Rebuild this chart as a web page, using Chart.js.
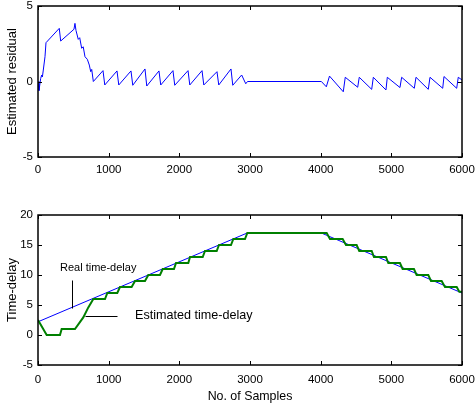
<!DOCTYPE html>
<html>
<head>
<meta charset="utf-8">
<script src="https://cdn.jsdelivr.net/npm/chart.js@4.4.0/dist/chart.umd.min.js"></script>
<style>
  html, body { margin: 0; padding: 0; background: #fff; }
  #wrap { position: relative; width: 476px; height: 409px; }
  canvas { position: absolute; left: 0; }
  #residualChart { top: 0; }
  #delayChart { top: 190px; }
</style>
</head>
<body>
<div id="wrap">
  <canvas id="residualChart" width="476" height="190"></canvas>
  <canvas id="delayChart" width="476" height="219"></canvas>
</div>
<script>
// Tick labels
const sampleTicks = [0, 1000, 2000, 3000, 4000, 5000, 6000];
const residualTicks = [-5, 0, 5];
const delayTicks = [-5, 0, 5, 10, 15, 20];

// Estimated residual (top plot)
const residualSamples = [0, 14, 38, 52, 62, 75, 99, 113, 301, 321, 509, 523, 538, 570, 590, 618, 640, 665, 698, 726, 746, 760, 783,
  920, 945, 1118, 1143, 1316, 1341, 1514, 1539, 1712, 1737, 1910, 1935, 2123, 2148, 2321, 2346, 2533, 2558, 2731, 2756,
  2882, 2940, 2965, 4010, 4080, 4125, 4320, 4348, 4524, 4546, 4722, 4745, 4924, 4943, 5122, 5146, 5325, 5349,
  5523, 5547, 5727, 5745, 5925, 5947, 6000];
const residualValues = [0, -0.6, 0.2, 0.43, 0.3, 0.76, 1.64, 2.57, 3.52, 2.68, 3.46, 3.85, 3.37, 2.79, 2.9, 2.2, 2.3, 1.64, 1.47, 1.09, 0.65, 0.8, 0,
  0.72, -0.23, 0.7, -0.23, 0.7, -0.25, 0.83, -0.3, 0.7, -0.23, 0.72, -0.25, 0.72, -0.23, 0.72, -0.23, 0.65, -0.23, 0.83, -0.25,
  0.43, -0.15, 0, 0, -0.35, 0.36, -0.68, 0.28, -0.38, 0.28, -0.52, 0.28, -0.56, 0.28, -0.4, 0.28, -0.45, 0.28,
  -0.52, 0.28, -0.45, 0.33, -0.45, 0.28, 0.1];

// Real time-delay (blue)
const realSamples = [0, 2960, 4010, 6000];
const realValues = [2.2, 17, 17, 7.0];

// Estimated time-delay (green staircase)
const estSamples = [0, 123, 311, 335, 523, 641, 712, 783, 948, 981, 1122, 1160, 1325, 1373, 1514, 1561,
  1726, 1765, 1924, 1953, 2127, 2151, 2331, 2363, 2529, 2561, 2731, 2764, 2929, 2962,
  4085, 4132, 4311, 4358, 4509, 4546, 4722, 4754, 4924, 4957, 5122, 5160, 5320, 5358,
  5523, 5561, 5712, 5759, 5925, 5962, 6000];
const estValues = [2.5, 0, 0, 1, 1, 2.94, 4.6, 6, 6, 7, 7, 8, 8, 9, 9, 10,
  10, 11, 11, 12, 12, 13, 13, 14, 14, 15, 15, 16, 16, 17,
  17, 16, 16, 15, 15, 14, 14, 13, 13, 12, 12, 11, 11, 10,
  10, 9, 9, 8, 8, 7.2, 7.2];

const FONT = "'Liberation Sans', Arial, sans-serif";
const tickFont = { family: FONT, size: 11.5 };

const pairs = (xs, ys) => xs.map((x, i) => ({ x: x, y: ys[i] }));

// box around the plot + inward tick marks on all four sides
const framePlugin = {
  id: 'frame',
  afterDraw(chart) {
    const { ctx, chartArea: a, scales: { x, y } } = chart;
    ctx.save();
    ctx.strokeStyle = '#000';
    ctx.lineWidth = 1;
    ctx.beginPath();
    x.ticks.forEach(t => {
      const px = Math.round(x.getPixelForValue(t.value)) + 0.5;
      ctx.moveTo(px, a.bottom); ctx.lineTo(px, a.bottom - 4);
      ctx.moveTo(px, a.top); ctx.lineTo(px, a.top + 4);
    });
    y.ticks.forEach(t => {
      const py = Math.round(y.getPixelForValue(t.value)) + 0.5;
      ctx.moveTo(a.left, py); ctx.lineTo(a.left + 4, py);
      ctx.moveTo(a.right, py); ctx.lineTo(a.right - 4, py);
    });
    ctx.stroke();
    ctx.lineWidth = 1.5;
    ctx.strokeRect(a.left, a.top, a.right - a.left, a.bottom - a.top);
    ctx.restore();
  }
};

// text labels with leader lines, placed in data units
const delayNotes = [
  { text: 'Real time-delay', size: 11, at: [311, 11.1], line: [[477, 9.2], [477, 4.45]] },
  { text: 'Estimated time-delay', size: 12.6, at: [1373, 3.3], line: [[665, 3.2], [1122, 3.2]] }
];

const notePlugin = {
  id: 'notes',
  afterDraw(chart) {
    const { ctx, scales: { x, y } } = chart;
    ctx.save();
    ctx.fillStyle = '#000';
    ctx.strokeStyle = '#000';
    ctx.lineWidth = 1;
    ctx.textBaseline = 'middle';
    delayNotes.forEach(n => {
      ctx.font = n.size + 'px ' + FONT;
      ctx.fillText(n.text, x.getPixelForValue(n.at[0]), y.getPixelForValue(n.at[1]));
      ctx.beginPath();
      const [p0, p1] = n.line;
      ctx.moveTo(Math.round(x.getPixelForValue(p0[0])) + 0.5, Math.round(y.getPixelForValue(p0[1])) + 0.5);
      ctx.lineTo(Math.round(x.getPixelForValue(p1[0])) + 0.5, Math.round(y.getPixelForValue(p1[1])) + 0.5);
      ctx.stroke();
    });
    ctx.restore();
  }
};

function xAxis(height, labelPad, title) {
  return {
    type: 'linear', min: 0, max: 6000,
    afterBuildTicks: s => { s.ticks = sampleTicks.map(v => ({ value: v })); },
    ticks: { color: '#000', font: tickFont, padding: labelPad, maxRotation: 0, autoSkip: false, callback: v => String(v) },
    grid: { display: false, drawTicks: false },
    border: { display: false },
    title: title ? { display: true, text: title, color: '#000', font: { family: FONT, size: 12.4 }, padding: { top: 0, bottom: 5 } } : { display: false },
    afterFit: s => { s.height = height; s.paddingLeft = 0; s.paddingRight = 0; }
  };
}

function yAxis(min, max, tickList, title) {
  return {
    type: 'linear', min: min, max: max,
    afterBuildTicks: s => { s.ticks = tickList.map(v => ({ value: v })); },
    ticks: { color: '#000', font: tickFont, padding: 5, autoSkip: false, callback: v => String(v) },
    grid: { display: false, drawTicks: false },
    border: { display: false },
    title: { display: true, text: title, color: '#000', font: { family: FONT, size: 13 }, padding: { top: 4.5, bottom: 0 } },
    afterFit: s => { s.width = 38; s.paddingTop = 0; s.paddingBottom = 0; }
  };
}

const common = {
  responsive: false,
  animation: false,
  events: [],
  plugins: { legend: { display: false }, tooltip: { enabled: false } },
  elements: { point: { radius: 0 }, line: { tension: 0 } }
};

new Chart(document.getElementById('residualChart'), {
  type: 'line',
  data: {
    datasets: [{
      data: pairs(residualSamples, residualValues),
      borderColor: '#0000ff',
      borderWidth: 1
    }]
  },
  options: Object.assign({}, common, {
    layout: { padding: { left: 0, right: 14, top: 6, bottom: 0 } },
    scales: {
      x: xAxis(33, 6, null),
      y: yAxis(-5, 5, residualTicks, 'Estimated residual')
    }
  }),
  plugins: [framePlugin]
});

new Chart(document.getElementById('delayChart'), {
  type: 'line',
  data: {
    datasets: [
      {
        data: pairs(estSamples, estValues),
        borderColor: '#008000',
        borderWidth: 2,
        order: 0
      },
      {
        data: pairs(realSamples, realValues),
        borderColor: '#0000ff',
        borderWidth: 1,
        order: 1
      }
    ]
  },
  options: Object.assign({}, common, {
    layout: { padding: { left: 0, right: 14, top: 25, bottom: 0 } },
    scales: {
      x: xAxis(44, 8, 'No. of Samples'),
      y: yAxis(-5, 20, delayTicks, 'Time-delay')
    }
  }),
  plugins: [framePlugin, notePlugin]
});
</script>
</body>
</html>
